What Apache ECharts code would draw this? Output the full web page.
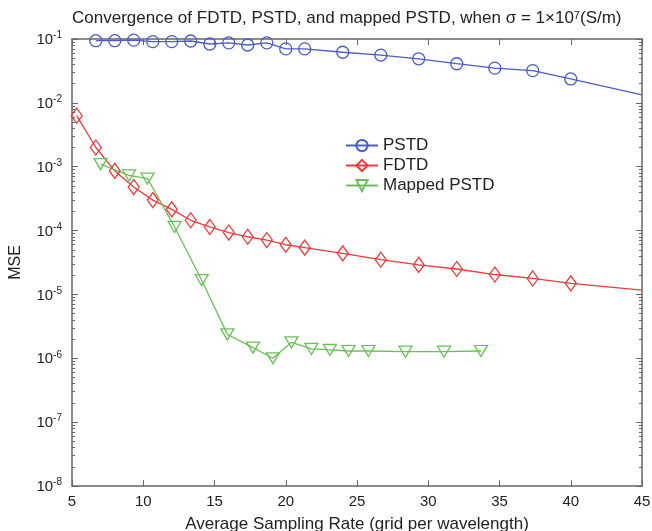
<!DOCTYPE html>
<html>
<head>
<meta charset="utf-8">
<script src="https://cdn.jsdelivr.net/npm/echarts@6/dist/echarts.min.js"></script>
<style>
  html, body { margin: 0; padding: 0; background: #fff; }
  #chart { width: 652px; height: 531px; }
</style>
</head>
<body>
<div id="chart"></div>
<script>
// values
const pstdX = [6.67, 8, 9.33, 10.67, 12, 13.33, 14.67, 16, 17.33, 18.67, 20, 21.33, 24, 26.67, 29.33, 32, 34.67, 37.33, 40, 45];
const pstdY = [0.094, 0.094, 0.096, 0.091, 0.091, 0.093, 0.0835, 0.087, 0.0806, 0.087, 0.070, 0.070, 0.062, 0.056, 0.049, 0.041, 0.035, 0.032, 0.0237, 0.0133];
const fdtdX = [5.33, 6.67, 8, 9.33, 10.67, 12, 13.33, 14.67, 16, 17.33, 18.67, 20, 21.33, 24, 26.67, 29.33, 32, 34.67, 37.33, 40, 45];
const fdtdY = [6.3e-3, 2.0e-3, 8.6e-4, 4.8e-4, 3.0e-4, 2.15e-4, 1.45e-4, 1.14e-4, 9.3e-5, 8.0e-5, 7.1e-5, 6.0e-5, 5.4e-5, 4.4e-5, 3.5e-5, 2.9e-5, 2.5e-5, 2.05e-5, 1.78e-5, 1.49e-5, 1.17e-5];
const mappedX = [7.0, 9.0, 10.3, 12.2, 14.1, 15.9, 17.7, 19.1, 20.4, 21.8, 23.1, 24.4, 25.8, 28.4, 31.1, 33.7];
const mappedY = [1.1e-3, 7.3e-4, 6.5e-4, 1.14e-4, 1.67e-5, 2.37e-6, 1.47e-6, 1.0e-6, 1.78e-6, 1.40e-6, 1.35e-6, 1.30e-6, 1.30e-6, 1.27e-6, 1.27e-6, 1.30e-6];
// last points of PSTD / FDTD sit on the right edge, no marker there
const endX = 45;

const font = "Liberation Sans";
const axisColor = "#666";
const textColor = "#222";

// minor ticks 2..9 of each decade
const minorTicks = [];
for (let e = -8; e < -1; e++) {
  for (let m = 2; m <= 9; m++) minorTicks.push(m * Math.pow(10, e));
}

function pairs(xs, ys) {
  return xs.map((x, i) => (x === endX ? { value: [x, ys[i]], symbol: "none" } : [x, ys[i]]));
}

const logAxisBase = {
  type: "log",
  logBase: 10,
  min: 1e-8,
  max: 1e-1,
  splitNumber: 7,
  splitLine: { show: false },
  axisLine: { show: true, lineStyle: { color: axisColor, width: 1.5 } },
};

const chart = echarts.init(document.getElementById("chart"));
chart.setOption({
  animation: false,
  backgroundColor: "#fff",
  title: {
    text: "Convergence of FDTD, PSTD, and mapped PSTD, when σ = 1×10{s|7}(S/m)",
    left: 67,
    top: 5,
    textStyle: {
      fontFamily: font,
      fontSize: 17,
      fontWeight: "normal",
      color: textColor,
      rich: { s: { fontFamily: font, fontSize: 11, color: textColor, verticalAlign: "top", lineHeight: 12 } },
    },
  },
  legend: {
    orient: "vertical",
    left: 340,
    top: 132,
    itemWidth: 32,
    itemHeight: 14,
    itemGap: 3,
    textStyle: { fontFamily: font, fontSize: 17, color: textColor, padding: [0, 0, 0, 0] },
    data: ["PSTD", "FDTD", "Mapped PSTD"],
  },
  grid: { left: 72, right: 10, top: 39, bottom: 45, outerBoundsMode: "none" },
  xAxis: [
    {
      type: "value",
      min: 5,
      max: 45,
      interval: 5,
      name: "Average Sampling Rate (grid per wavelength)",
      nameLocation: "middle",
      nameGap: 30,
      nameTextStyle: { fontFamily: font, fontSize: 17, color: textColor },
      splitLine: { show: false },
      axisLine: { lineStyle: { color: axisColor, width: 1.5 } },
      axisTick: { inside: true, length: 6, lineStyle: { color: axisColor } },
      axisLabel: { fontFamily: font, fontSize: 15, color: textColor, margin: 8 },
    },
    {
      type: "value",
      position: "top",
      min: 5,
      max: 45,
      interval: 5,
      splitLine: { show: false },
      axisLine: { lineStyle: { color: axisColor, width: 1.5 } },
      axisTick: { inside: true, length: 6, lineStyle: { color: axisColor } },
      axisLabel: { show: false },
    },
  ],
  yAxis: [
    Object.assign({}, logAxisBase, {
      position: "left",
      name: "MSE",
      nameLocation: "middle",
      nameGap: 48,
      nameTextStyle: { fontFamily: font, fontSize: 16, color: textColor },
      axisTick: { inside: true, length: 6, lineStyle: { color: axisColor } },
      axisLabel: {
        margin: 10,
        formatter: (v) => "{a|10}{b|" + Math.round(Math.log10(v)) + "}",
        rich: {
          a: { fontFamily: font, fontSize: 15, color: textColor, verticalAlign: "bottom", lineHeight: 17 },
          b: { fontFamily: font, fontSize: 10, color: textColor, verticalAlign: "top", lineHeight: 17 },
        },
      },
    }),
    Object.assign({}, logAxisBase, {
      position: "right",
      axisTick: { inside: true, length: 6, lineStyle: { color: axisColor } },
      axisLabel: { show: false },
    }),
    Object.assign({}, logAxisBase, {
      position: "left",
      axisLine: { show: false },
      axisTick: { inside: true, length: 3, customValues: minorTicks, lineStyle: { color: axisColor } },
      axisLabel: { show: false },
    }),
    Object.assign({}, logAxisBase, {
      position: "right",
      axisLine: { show: false },
      axisTick: { inside: true, length: 3, customValues: minorTicks, lineStyle: { color: axisColor } },
      axisLabel: { show: false },
    }),
  ],
  series: [
    {
      name: "PSTD",
      type: "line",
      data: pairs(pstdX, pstdY),
      symbol: "circle",
      symbolSize: 12,
      lineStyle: { color: "#4a5cc6", width: 1.3 },
      itemStyle: { color: "rgba(0,0,0,0)", borderColor: "#4a5cc6", borderWidth: 1.3 },
      z: 3,
    },
    {
      name: "FDTD",
      type: "line",
      data: pairs(fdtdX, fdtdY),
      symbol: "diamond",
      symbolSize: [11, 15],
      lineStyle: { color: "#f03a3a", width: 1.3 },
      itemStyle: { color: "rgba(0,0,0,0)", borderColor: "#f03a3a", borderWidth: 1.3 },
      z: 3,
    },
    {
      name: "Mapped PSTD",
      type: "line",
      data: pairs(mappedX, mappedY),
      symbol: "path://M0,0 L10,0 L5,9 Z",
      symbolSize: [13, 11],
      lineStyle: { color: "#6cc05a", width: 1.3 },
      itemStyle: { color: "rgba(0,0,0,0)", borderColor: "#6cc05a", borderWidth: 1.3 },
      z: 3,
    },
  ],
});
</script>
</body>
</html>
